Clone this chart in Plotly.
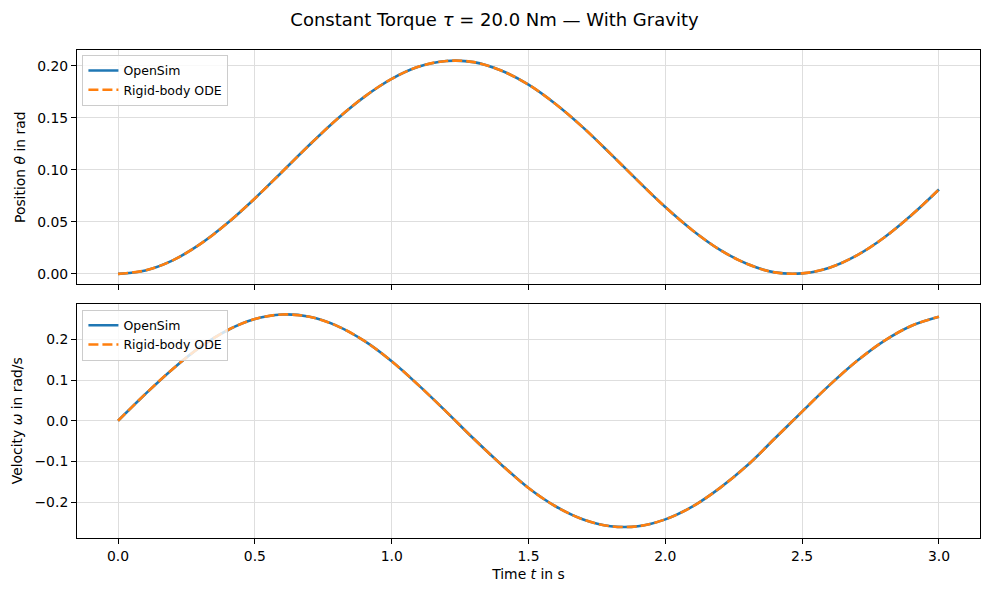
import plotly.graph_objects as go
from plotly.subplots import make_subplots

t = [round(0.1 * i, 1) for i in range(31)]
theta_opensim = [0.0, 0.0033, 0.0130, 0.0285, 0.0488, 0.0725, 0.0982, 0.1241, 0.1487, 0.1702,
                 0.1875, 0.1993, 0.2047, 0.2036, 0.1955, 0.1819, 0.1631, 0.1406, 0.1154, 0.0894,
                 0.0642, 0.0417, 0.0230, 0.0094, 0.0014, 0.0004, 0.0059, 0.0177, 0.0349, 0.0565,
                 0.0811]
theta_ode = list(theta_opensim)
omega_opensim = [0.0, 0.0658, 0.1274, 0.1808, 0.2224, 0.2498, 0.2610, 0.2553, 0.2332, 0.1961,
                 0.1461, 0.0862, 0.0219, -0.0443, -0.1073, -0.1652, -0.2106, -0.2425, -0.2591, -0.2591,
                 -0.2423, -0.2104, -0.1649, -0.1095, -0.0437, 0.0226, 0.0875, 0.1467, 0.1964, 0.2335,
                 0.2555]
omega_ode = list(omega_opensim)

x_ticks = [0.0, 0.5, 1.0, 1.5, 2.0, 2.5, 3.0]
theta_ticks = [0.00, 0.05, 0.10, 0.15, 0.20]
omega_ticks = [-0.2, -0.1, 0.0, 0.1, 0.2]

FONT = "DejaVu Sans"
BLUE = "#1f77b4"
ORANGE = "#ff7f0e"
FS = 13.9

fig = make_subplots(rows=2, cols=1, shared_xaxes=True, vertical_spacing=0.039)

for row, (a, b, leg) in enumerate([(theta_opensim, theta_ode, "legend"),
                                     (omega_opensim, omega_ode, "legend2")], start=1):
    fig.add_trace(go.Scatter(x=t, y=a, mode="lines", name="OpenSim",
                             line=dict(color=BLUE, width=2.6, shape="spline"),
                             legend=leg), row=row, col=1)
    fig.add_trace(go.Scatter(x=t, y=b, mode="lines", name="Rigid-body ODE",
                             line=dict(color=ORANGE, width=2.6, dash="10px,4px", shape="spline"),
                             legend=leg), row=row, col=1)

axis_common = dict(showline=True, linecolor="black", linewidth=1, mirror=True,
                   ticks="outside", ticklen=5, tickwidth=1, tickcolor="black",
                   showgrid=True, gridcolor="#dedede", gridwidth=1, zeroline=False,
                   tickfont=dict(family=FONT, size=FS, color="black"))

fig.update_xaxes(range=[-0.15, 3.15], tickvals=x_ticks, tickformat=".1f", **axis_common)
fig.update_xaxes(showticklabels=False, row=1, col=1)
fig.update_xaxes(title=dict(text="Time <i>t</i> in s", font=dict(family=FONT, size=FS, color="black"),
                            standoff=6), row=2, col=1)
fig.update_yaxes(**axis_common)
fig.update_yaxes(range=[-0.01025, 0.21525], tickvals=theta_ticks, tickformat=".2f",
                 title=dict(text="Position <i>θ</i> in rad", font=dict(family=FONT, size=FS, color="black"),
                            standoff=8), row=1, col=1)
fig.update_yaxes(range=[-0.288, 0.288], tickvals=omega_ticks, tickformat=".1f",
                 title=dict(text="Velocity <i>ω</i> in rad/s", font=dict(family=FONT, size=FS, color="black"),
                            standoff=8), row=2, col=1)

legend_style = dict(x=0.006, xanchor="left", yanchor="top",
                    bgcolor="rgba(255,255,255,0.8)", bordercolor="#cccccc", borderwidth=1,
                    font=dict(family=FONT, size=12.5, color="black"), tracegroupgap=0,
                    itemwidth=30)

fig.update_layout(
    width=989, height=593,
    margin=dict(l=77, r=9, t=50, b=55),
    paper_bgcolor="white", plot_bgcolor="white",
    title=dict(text="Constant Torque <i>τ</i> = 20.0 Nm — With Gravity",
               font=dict(family=FONT, size=18, color="black"),
               x=0.5, xanchor="center", y=1 - 20 / 593, yanchor="middle"),
    legend=dict(y=0.99, **legend_style),
    legend2=dict(y=0.468, **legend_style),
    font=dict(family=FONT),
)

fig.write_html("out.html")
